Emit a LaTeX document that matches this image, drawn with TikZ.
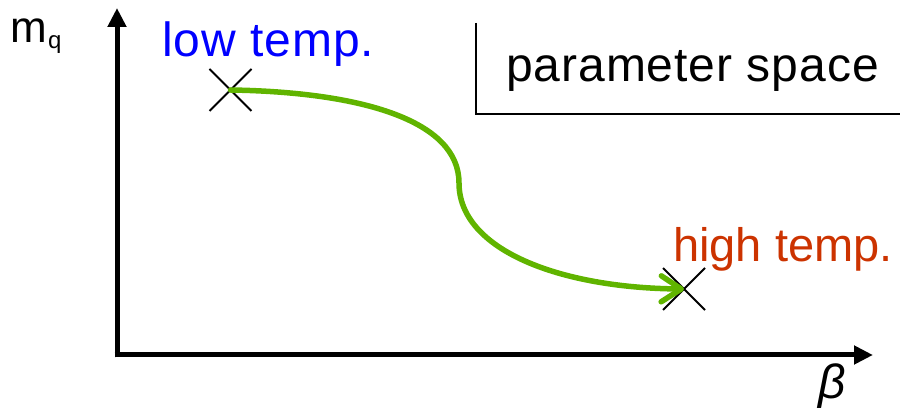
\documentclass[tikz,border=0pt]{standalone}
\usepackage{fontspec}
\setmainfont{Liberation Sans}
\usetikzlibrary{arrows.meta,shapes.misc}
\definecolor{curvegreen}{RGB}{96,180,0}
\definecolor{lowblue}{RGB}{0,0,255}
\definecolor{highred}{RGB}{204,51,0}
\tikzset{
  axis/.style={line width=5pt,-{Triangle[length=19pt,width=18pt]}},
  xmark/.style={cross out,draw=black,line width=2pt,minimum size=40pt,inner sep=0pt},
  bigtext/.style={inner sep=0pt,anchor=base west,font=\fontsize{48}{58}\selectfont\addfontfeature{LetterSpace=2}},
  flow/.style={line width=5.5pt,curvegreen,line cap=round,-{Straight Barb[length=20pt,width=26pt,line cap=round,line join=round]}},
  frame/.style={line width=1.5pt}
}
\begin{document}
\begin{tikzpicture}[x=1pt,y=-1pt]
\useasboundingbox (0,0) rectangle (900,411);
% axes
\coordinate (origin) at (117,355);
\coordinate (ytip) at (117,8);
\coordinate (xtip) at (873,355);
\draw[line width=5pt] (117,357.5) -- (origin);
\draw[axis] (117,357.5) -- (ytip);
\draw[axis] (114.5,355) -- (xtip);
% axis labels
\node[inner sep=0pt,anchor=base west,font=\fontsize{44}{52}\selectfont] (mlab) at (10,43) {m};
\node[inner sep=0pt,anchor=base west,font=\fontsize{24}{28}\selectfont] (qlab) at (48,49) {q};
\node[inner sep=0pt,anchor=base west,font=\fontsize{48}{58}\selectfont\itshape] (betalab) at (818,399) {β};
% parameter space frame
\coordinate (ftop) at (476,23);
\coordinate (fcorner) at (476,114);
\coordinate (fright) at (900,114);
\draw[frame] (ftop) -- (fcorner) -- (fright);
\node[bigtext] (ps) at (506,82) {parameter space};
% points
\node[xmark] (lowpt) at (230.5,90) {};
\node[xmark] (highpt) at (684,289) {};
\node[bigtext,text=lowblue] (lowlab) at (162,57) {low temp.};
\node[inner sep=0pt,anchor=base west,font=\fontsize{47}{56}\selectfont,text=highred] (highlab) at (673,262) {high temp.};
% curve
\coordinate (mid) at (459,183);
\draw[flow] (lowpt.center) .. controls (360,92) and (459,120) .. (mid)
  .. controls (459,250) and (560,288) .. (highpt.center);
\end{tikzpicture}
\end{document}
